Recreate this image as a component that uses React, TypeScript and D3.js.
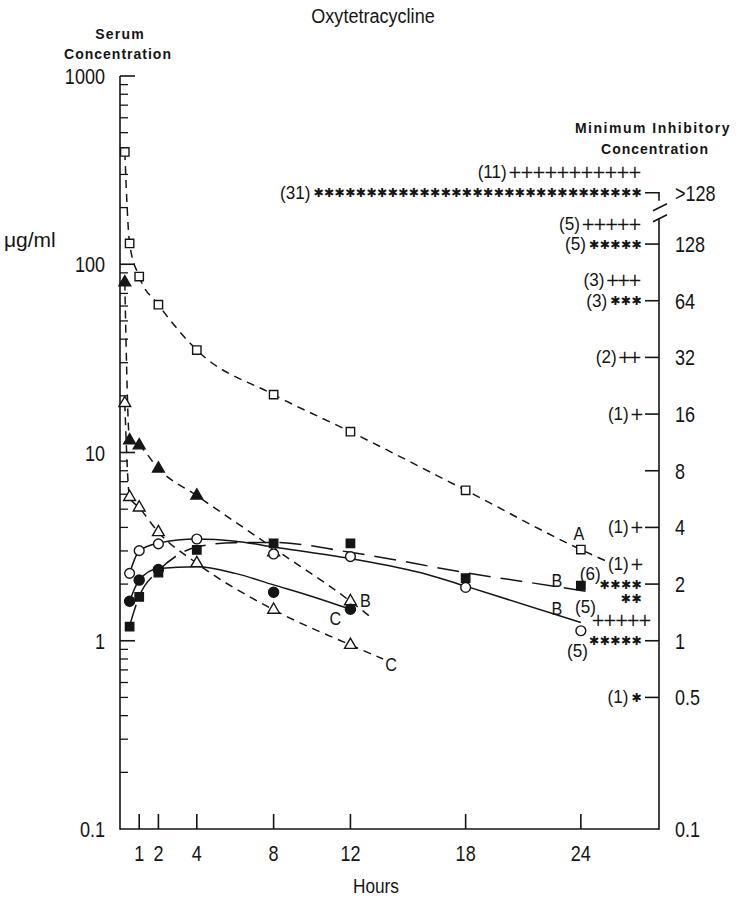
import React, { useEffect, useRef } from "react";
import * as d3 from "d3";

// axis ticks
const hourTicks = [1, 2, 4, 8, 12, 18, 24];
const serumTicks = [1000, 100, 10, 1, 0.1];
const serumTickLabels = ["1000", "100", "10", "1", "0.1"];

// MIC scale on the right (">128" sits above the axis break)
const micLabels = [">128", "128", "64", "32", "16", "8", "4", "2", "1", "0.5", "0.1"];
const micValues = [240, 128, 64, 32, 16, 8, 4, 2, 1, 0.5, 0.1];
const plusCounts = [11, 5, 3, 2, 1, 0, 1, 1, 5, 0, 0];
const starCounts = [31, 5, 3, 0, 0, 0, 0, 6, 5, 1, 0];

// measured points [hours, ug/ml]
const openSquares = [[0.25, 395], [0.5, 129], [1, 86], [2, 61], [4, 35], [8, 20.3], [12, 12.9], [18, 6.3], [24, 3.05]];
const filledTriangles = [[0.25, 80], [0.5, 11.6], [1, 10.9], [2, 8.2], [4, 5.9]];
const openTriangles = [[0.25, 18.3], [0.5, 5.8], [1, 5.1], [2, 3.77], [4, 2.58], [8, 2.95], [8, 1.46], [12, 1.62], [12, 0.95]];
const openCircles = [[0.5, 2.28], [1, 3.01], [2, 3.27], [4, 3.47], [8, 2.89], [12, 2.8], [18, 1.92], [24, 1.13]];
const filledSquares = [[0.5, 1.19], [1, 1.71], [2, 2.3], [4, 3.04], [8, 3.29], [12, 3.29], [18, 2.15], [24, 1.96]];
const filledCircles = [[0.5, 1.62], [1, 2.1], [2, 2.39], [8, 1.81], [12, 1.47]];

// drawn curves [hours, ug/ml]
const curveA = [[0.25, 395], [0.5, 129], [1, 86], [2, 61], [4, 35], [8, 20.3], [12, 12.9], [18, 6.3], [24, 3.05], [25.5, 2.6]];
const curveBDash = [[0.25, 80], [0.5, 11.6], [1, 10.9], [2, 8.2], [4, 5.9], [8, 3.1], [12, 1.62], [13.2, 1.3]];
const curveCDash = [[0.25, 18.3], [0.5, 5.8], [1, 5.1], [2, 3.77], [4, 2.58], [8, 1.46], [12, 0.95], [13.7, 0.8]];
const curveBSolid = [[0.5, 2.28], [1, 3.0], [2, 3.3], [4, 3.47], [6, 3.38], [8, 3.15], [12, 2.73], [16, 2.25], [18, 1.95], [24, 1.25]];
const curveBLong = [[0.5, 1.2], [1, 1.72], [2, 2.35], [3, 2.85], [4, 3.15], [6, 3.32], [8, 3.33], [12, 2.95], [18, 2.3], [24, 1.85], [24.7, 1.8]];
const curveCSolid = [[0.5, 1.62], [1, 2.1], [2, 2.42], [4, 2.47], [6, 2.28], [8, 1.98], [10, 1.72], [12, 1.47]];

const W = 746;
const H = 900;
const FONT = "'Liberation Sans', Arial, sans-serif";
const INK = "#151515";

const draw = (node) => {
  const svg = d3.select(node);
  svg.selectAll("*").remove();
  svg.append("rect").attr("width", W).attr("height", H).attr("fill", "#fff");

  const x = d3.scaleLinear().domain([0, 28.07]).range([120, 659]);
  const y = d3.scaleLog().domain([0.1, 1000]).range([829, 76]);
  const x0 = x(0);
  const xR = x(28.07);

  // text squeezed horizontally to get the narrow lettering of the original
  const text = (tx, ty, s, size, anchor = "middle", sx = 1) =>
    svg.append("text").attr("transform", `translate(${tx},${ty}) scale(${sx},1)`)
      .attr("font-family", FONT).attr("font-size", size).attr("fill", INK)
      .attr("text-anchor", anchor).text(s);

  const ln = (x1, y1, x2, y2, w = 1.6) =>
    svg.append("line").attr("x1", x1).attr("y1", y1).attr("x2", x2).attr("y2", y2)
      .attr("stroke", INK).attr("stroke-width", w);

  // frame
  ln(x0, y(1000), x0, y(0.1) + 0.8);
  ln(x0, y(0.1), xR, y(0.1));
  ln(xR, y(0.1) + 0.8, xR, y(128) - 26);
  svg.append("path").attr("fill", "none").attr("stroke", INK).attr("stroke-width", 1.6)
    .attr("d", `M${xR - 14},${y(240)} H${xR} V${y(240) + 8}`);
  ln(xR - 6, y(240) + 18, xR + 8, y(240) + 11);
  ln(xR - 6, y(240) + 29, xR + 8, y(240) + 22);

  // left ticks
  ln(x0, y(1000), x0 + 15, y(1000));
  [0.1, 1, 10, 100].forEach((d) => {
    d3.range(2, 10).forEach((m) => ln(x0, y(d * m), x0 + 8, y(d * m), 1.3));
    if (d * 10 < 1000) ln(x0, y(d * 10), x0 + 15, y(d * 10));
  });
  serumTicks.forEach((v, i) => text(105, y(v) + 8, serumTickLabels[i], 22, "end", 0.82));

  // bottom ticks
  hourTicks.forEach((h) => {
    ln(x(h), y(0.1), x(h), y(0.1) - 15);
    text(x(h), 861, String(h), 22, "middle", 0.82);
  });

  // right MIC ticks and labels
  micValues.forEach((v, i) => {
    const ty = y(v);
    if (i > 0 && v > 0.1) ln(xR - 14, ty, xR, ty);
    text(xR + 16, ty + 8, micLabels[i], 22, "start", 0.82);
  });

  // isolate counts: "+" and "*" rows
  const plusPitch = 12.2;
  const starPitch = 10.6;
  const symbols = (xEnd, ty, n, ch, pitch, size, dy, weight) =>
    svg.append("text").attr("x", xEnd - n * pitch).attr("y", ty + dy)
      .attr("font-family", "'DejaVu Sans', sans-serif").attr("font-size", size)
      .attr("font-weight", weight).attr("fill", INK)
      .attr("textLength", n * pitch).attr("lengthAdjust", "spacing")
      .text(ch.repeat(n));
  const plusRow = (xEnd, ty, n) => symbols(xEnd, ty, n, "+", plusPitch, 17, 6, "normal");
  const starRow = (xEnd, ty, n) => symbols(xEnd, ty, n, "\u2731", starPitch, 12.5, 4.5, "bold");
  const countLabel = (xEnd, ty, n) => text(xEnd, ty, `(${n})`, 18, "end", 0.95);

  const xEnd = xR - 17;
  micValues.forEach((v, i) => {
    const ty = y(v);
    const p = plusCounts[i];
    const s = starCounts[i];
    const lbl = micLabels[i];
    if (lbl === "2") {
      plusRow(xEnd, ty - 20, p);
      countLabel(xEnd - p * plusPitch - 1, ty - 14, p);
      starRow(xEnd, ty, 4);
      starRow(xEnd, ty + 14, s - 4);
      countLabel(xEnd - 4 * starPitch + 1, ty - 4, s);
      return;
    }
    if (lbl === "1") {
      plusRow(xEnd + 10, ty - 21, p);
      countLabel(xEnd + 10 - p * plusPitch + 5, ty - 28, p);
      starRow(xEnd, ty, s);
      countLabel(xEnd - s * starPitch - 1, ty + 16, s);
      return;
    }
    if (p > 0) {
      const py = s > 0 ? ty - 20.5 : ty;
      plusRow(xEnd, py, p);
      countLabel(xEnd - p * plusPitch - 1, py + 6, p);
    }
    if (s > 0) {
      starRow(xEnd, ty, s);
      countLabel(xEnd - s * starPitch - 3, ty + 6, s);
    }
  });

  // curves
  const line = d3.line().x((d) => x(d[0])).y((d) => y(d[1])).curve(d3.curveMonotoneX);
  const curve = (data, dash) =>
    svg.append("path").datum(data).attr("d", line).attr("fill", "none")
      .attr("stroke", INK).attr("stroke-width", 1.5).attr("stroke-dasharray", dash);
  curve(curveA, "8,6");
  curve(curveBDash, "8,6");
  curve(curveCDash, "8,6");
  curve(curveBLong, "22,10");
  curve(curveBSolid, null);
  curve(curveCSolid, null);

  // markers
  const markers = (data, type, size, filled) =>
    svg.append("g").selectAll("path").data(data).enter().append("path")
      .attr("transform", (d) => `translate(${x(d[0])},${y(d[1])})`)
      .attr("d", d3.symbol().type(type).size(size))
      .attr("fill", filled ? INK : "#fff").attr("stroke", INK).attr("stroke-width", 1.4);
  markers(openTriangles, d3.symbolTriangle, 60, false);
  markers(filledTriangles, d3.symbolTriangle, 60, true);
  markers(openSquares, d3.symbolSquare, 70, false);
  markers(openCircles, d3.symbolCircle, 75, false);
  markers(filledCircles, d3.symbolCircle, 80, true);
  markers(filledSquares, d3.symbolSquare, 70, true);

  // curve letters
  text(x(24) - 2, y(3.05) - 10, "A", 18, "middle", 0.9);
  text(x(24) - 24, y(1.96) + 1, "B", 18, "middle", 0.9);
  text(x(24) - 24, y(1.96) + 29, "B", 18, "middle", 0.9);
  text(x(12) + 15, y(1.62) + 6, "B", 18, "middle", 0.9);
  text(x(12) - 15, y(1.47) + 16, "C", 18, "middle", 0.9);
  text(x(13.7) + 8, y(0.8) + 12, "C", 18, "middle", 0.9);

  // titles
  text(373, 23, "Oxytetracycline", 21, "middle", 0.86);
  text(120, 39, "Serum", 14, "middle").attr("font-weight", "bold").attr("letter-spacing", 1.2);
  text(118, 59, "Concentration", 14, "middle").attr("font-weight", "bold").attr("letter-spacing", 1);
  text(653, 133, "Minimum Inhibitory", 14, "middle").attr("font-weight", "bold").attr("letter-spacing", 1.5);
  text(655, 154, "Concentration", 14, "middle").attr("font-weight", "bold").attr("letter-spacing", 1);
  text(4, 247, "\u03bcg/ml", 21, "start");
  text(376, 893, "Hours", 21, "middle", 0.82);
};

export default function App() {
  const ref = useRef(null);

  useEffect(() => {
    if (ref.current) draw(ref.current);
  }, []);

  return (
    <svg
      ref={ref}
      width={W}
      height={H}
      style={{ position: "absolute", left: 0, top: 0 }}
    />
  );
}
